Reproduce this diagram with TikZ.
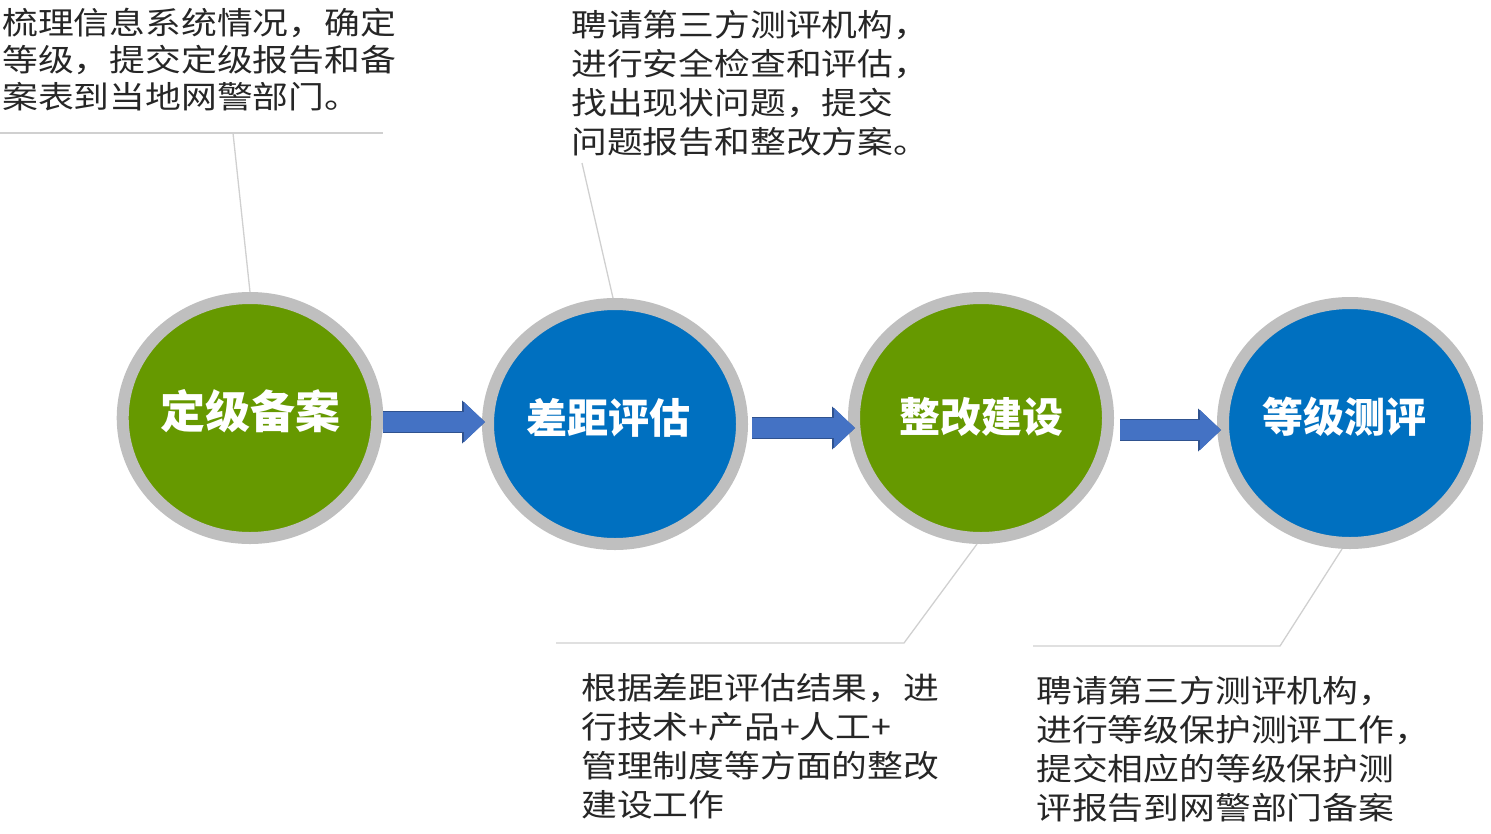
\documentclass[tikz,border=0pt]{standalone}
\usepackage{fontspec}
\setmainfont{Noto Sans CJK SC}
\newfontfamily\notefont{Noto Sans CJK SC}[FakeStretch=1.155]
\usepackage{xcolor}
\definecolor{cGreen}{HTML}{669900}
\definecolor{cBlue}{HTML}{0070C0}
\definecolor{cRing}{HTML}{BFBFBF}
\definecolor{cFlow}{HTML}{4472C4}
\definecolor{cFlowEdge}{HTML}{2F528F}
\definecolor{cLine}{HTML}{D0D0D0}
\definecolor{cText}{HTML}{262626}
\usetikzlibrary{arrows.meta,shapes.geometric,calc}
\tikzset{
  node-stage/.style={ellipse,draw=cRing,line width=12pt,
    minimum width=254pt,minimum height=240pt,inner sep=0pt,text=white,
    font=\fontsize{41}{41}\selectfont\bfseries,text height=29pt,text depth=10pt},
  node-green/.style={fill=cGreen},
  node-blue/.style={fill=cBlue},
  node-note/.style={anchor=north west,inner sep=0pt,align=left,text=cText,
    font=\notefont\fontsize{31}{39}\selectfont},
  arrow-flow/.style={draw=cFlow,line width=20pt,
    -{Triangle[length=21pt,width=40pt,line width=0pt]},
    preaction={draw=cFlowEdge,line width=22pt,
      -{Triangle[length=23pt,width=43pt,line width=0pt]}}},
  leader/.style={draw=cLine,line width=1.3pt},
}

\begin{document}
\begin{tikzpicture}[x=1pt,y=-1pt]
  \useasboundingbox (0,0) rectangle (1491,833);
  % 说明文字
  \node[node-note,font=\notefont\fontsize{31}{37}\selectfont] (n1) at (2,8)
    {梳理信息系统情况，确定\\等级，提交定级报告和备\\案表到当地网警部门。};
  \node[node-note] (n2) at (571,10)
    {聘请第三方测评机构，\\进行安全检查和评估，\\找出现状问题，提交\\问题报告和整改方案。};
  \node[node-note] (n3) at (581,673)
    {根据差距评估结果，进\\行技术+产品+人工+\\管理制度等方面的整改\\建设工作};
  \node[node-note] (n4) at (1036,676)
    {聘请第三方测评机构，\\进行等级保护测评工作，\\提交相应的等级保护测\\评报告到网警部门备案};
  % 引线
  \coordinate (k1a) at (0,133);
  \coordinate (k1b) at (383,133);
  \coordinate (k1) at (233,133);
  \coordinate (k2) at (582,163);
  \coordinate (k3) at (904,643);
  \coordinate (k3a) at (556,643);
  \coordinate (k4) at (1280,646);
  \coordinate (k4a) at (1033,646);
  % 四个阶段
  \node[node-stage,node-green,font=\fontsize{45}{45}\selectfont\bfseries,
    text height=32pt,text depth=11pt] (c1) at (250,418) {定级备案};
  \node[node-stage,node-blue] (c2) at (615,424) {\hspace*{-13pt}差距评估};
  \node[node-stage,node-green,text height=38pt,text depth=10pt] (c3) at (981,418) {整改建设};
  \node[node-stage,node-blue] (c4) at (1350,423) {\hspace*{-12pt}等级测评};
  \draw[leader] (k1a) -- (k1b);
  \draw[leader] (k1) -- (c1.north);
  \draw[leader] (k2) -- ([xshift=-2pt]c2.north);
  \draw[leader] ([xshift=-4pt]c3.south) -- (k3) -- (k3a);
  \draw[leader] ([xshift=-8pt]c4.south) -- (k4) -- (k4a);
  \draw[arrow-flow] ([yshift=-4pt]c1.east) -- ([xshift=3pt,yshift=2pt]c2.west);
  \draw[arrow-flow] ([xshift=4pt,yshift=-4pt]c2.east) -- ([xshift=7pt,yshift=-10pt]c3.west);
  \draw[arrow-flow] ([xshift=6pt,yshift=-12pt]c3.east) -- ([xshift=4pt,yshift=-7pt]c4.west);
\end{tikzpicture}
\end{document}
